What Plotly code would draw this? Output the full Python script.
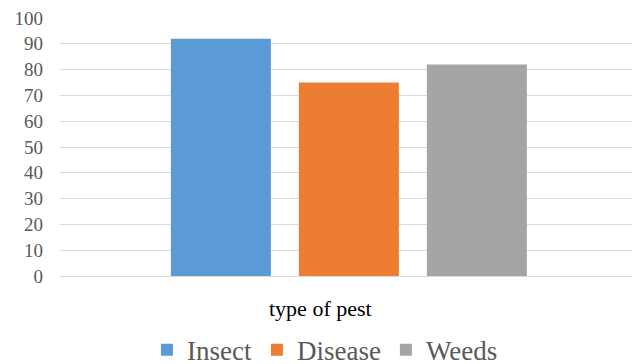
import plotly.graph_objects as go

category = ["type of pest"]
series_names = ["Insect", "Disease", "Weeds"]
series_values = [92, 75, 82]
colors = ["#5B9BD5", "#ED7D31", "#A5A5A5"]
y_ticks = list(range(0, 101, 10))
x_title = "type of pest"

fig = go.Figure()
for name, val, col in zip(series_names, series_values, colors):
    fig.add_trace(go.Bar(x=category, y=[val], name=name, marker_color=col,
                         marker_line_width=0))

font_family = "Liberation Serif, Times New Roman, serif"
fig.update_layout(
    width=632, height=364,
    margin=dict(l=60, r=0, t=18, b=88, autoexpand=False),
    paper_bgcolor="white", plot_bgcolor="white",
    barmode="group", bargap=0.3287, bargroupgap=0.21875,
    font=dict(family=font_family, color="#595959"),
    showlegend=True,
    legend=dict(orientation="h", x=0.152, xanchor="left", y=-0.288, yanchor="middle",
                font=dict(size=27, color="#595959"), itemwidth=30, traceorder="normal"),
    xaxis=dict(range=[-0.505, 0.495], showticklabels=False, automargin=False,
               ticks="", showline=False, showgrid=False),
    yaxis=dict(range=[0, 100], tickvals=y_ticks, showgrid=True, gridcolor="#D9D9D9", gridwidth=1,
               zeroline=True, zerolinecolor="#D9D9D9", zerolinewidth=1, automargin=False,
               tickfont=dict(size=19, color="#595959"), ticklabelstandoff=16, showline=False),
    annotations=[dict(text=x_title, xref="paper", yref="paper", x=0.456, y=-0.125,
                      xanchor="center", yanchor="middle", showarrow=False,
                      font=dict(size=22, color="#000000"))],
)
fig.write_html("out.html", config={"displayModeBar": False},
               post_script="document.body.style.margin='0';document.body.style.overflow='hidden';")
